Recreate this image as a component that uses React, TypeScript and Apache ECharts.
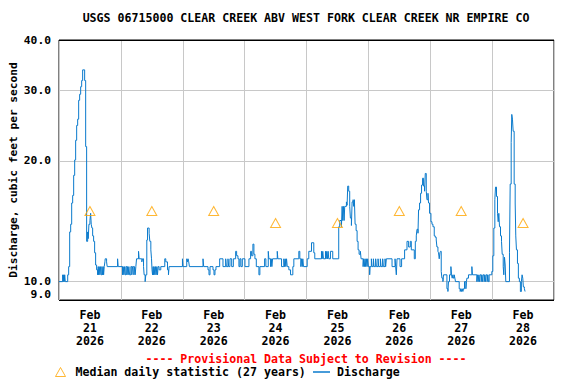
import React, { useEffect, useRef } from 'react';
import * as echarts from 'echarts';

// Tick labels / categories
const dayLabels = ['Feb\n21\n2026', 'Feb\n22\n2026', 'Feb\n23\n2026', 'Feb\n24\n2026', 'Feb\n25\n2026', 'Feb\n26\n2026', 'Feb\n27\n2026', 'Feb\n28\n2026'];
const yTickValues = [9, 10, 20, 30, 40];

// Median daily statistic (27 years), one per day, plotted at noon
const medianCfs = [15, 15, 15, 14, 14, 15, 15, 14];

// Discharge, cfs: [hour of day, value] change points, one array per day
const feb21: [number, number][] = [[0, 10.0], [1.43, 10.4], [1.66, 10.0], [1.82, 10.4], [2.05, 10.0], [2.21, 10.4], [2.44, 10.0], [3.37, 10.4], [3.75, 10.9], [4.14, 13.3], [4.53, 13.9], [4.92, 15.7], [5.30, 16.4], [5.69, 18.4], [6.08, 20.1], [6.46, 22.5], [6.85, 24.5], [7.24, 25.4], [7.63, 28.3], [8.01, 29.3], [8.40, 30.6], [8.79, 31.7], [9.17, 33.7], [9.95, 31.7], [10.34, 21.7], [10.72, 12.6], [11.11, 13.3], [11.34, 12.8], [11.61, 13.9], [12.00, 14.2], [12.27, 14.8], [12.50, 13.9], [12.77, 13.6], [13.05, 13.0], [13.43, 12.6], [13.82, 11.8], [14.21, 11.0], [14.59, 10.7], [14.98, 10.4], [15.21, 10.9], [15.37, 10.4], [15.60, 10.9], [15.87, 10.4], [16.14, 10.9], [16.37, 10.4], [16.65, 10.9], [16.92, 10.4], [17.15, 10.9], [17.30, 10.4], [17.54, 10.9], [17.81, 11.2], [17.92, 11.4], [18.46, 11.2], [18.70, 10.9], [22.72, 11.4], [22.95, 10.9]];
const feb22: [number, number][] = [[0.66, 10.4], [0.89, 10.9], [1.16, 10.4], [1.43, 10.9], [1.66, 10.4], [1.94, 10.9], [2.32, 10.4], [2.59, 10.9], [2.83, 10.4], [3.10, 10.9], [3.37, 10.4], [3.87, 10.9], [4.26, 10.4], [4.53, 10.9], [5.03, 10.4], [5.30, 10.9], [5.54, 10.4], [5.81, 10.9], [6.08, 11.4], [6.85, 11.9], [7.08, 11.4], [8.13, 11.2], [8.40, 11.4], [8.79, 10.9], [9.02, 10.4], [9.41, 10.0], [9.68, 10.4], [10.06, 12.7], [10.34, 13.6], [10.96, 13.2], [11.23, 12.6], [11.62, 12.0], [11.89, 11.4], [12.08, 10.7], [12.28, 10.4], [12.51, 10.9], [12.66, 10.4], [12.89, 10.9], [13.16, 10.4], [13.43, 10.9], [13.67, 10.4], [13.94, 10.9], [14.21, 10.4], [14.44, 10.9], [14.83, 10.7], [15.48, 10.9], [17.03, 11.4], [17.42, 11.2], [18.08, 10.7], [18.46, 10.4], [18.70, 10.9], [23.88, 11.4]];
const feb23: [number, number][] = [[0.12, 10.9], [1.55, 11.4], [1.82, 11.2], [2.05, 11.4], [2.32, 11.2], [2.59, 10.9], [7.86, 11.4], [8.13, 10.9], [9.79, 10.7], [10.18, 10.4], [10.57, 10.9], [11.73, 10.7], [12.12, 10.4], [12.50, 10.7], [12.89, 10.9], [14.32, 11.4], [15.60, 10.9], [16.65, 11.4], [16.92, 10.9], [17.54, 11.4], [17.81, 10.9], [18.31, 11.4], [18.97, 10.9], [19.63, 11.4], [20.52, 11.9], [20.90, 11.6], [21.41, 11.4], [21.79, 10.9], [22.18, 11.4], [22.57, 10.9], [23.11, 11.4]];
const feb24: [number, number][] = [[0.12, 10.9], [1.67, 11.4], [2.32, 11.9], [2.71, 11.6], [3.21, 12.4], [3.60, 11.7], [3.99, 11.4], [4.53, 10.9], [5.54, 10.4], [5.92, 10.9], [7.74, 11.4], [8.24, 10.9], [9.17, 11.9], [9.40, 11.4], [10.07, 10.9], [10.34, 11.4], [10.57, 10.9], [10.84, 11.4], [12.66, 11.9], [12.89, 11.4], [14.32, 10.9], [15.21, 11.4], [15.48, 10.9], [15.75, 11.4], [15.99, 10.9], [16.26, 11.4], [16.53, 10.9], [17.15, 10.7], [17.81, 10.4], [18.70, 10.9], [19.09, 11.4], [21.02, 11.9], [21.41, 11.4], [21.80, 10.9], [22.07, 11.4], [22.34, 10.9], [22.57, 11.4], [22.84, 10.9]];
const feb25: [number, number][] = [[0.27, 11.4], [0.89, 11.9], [1.94, 12.5], [2.83, 11.8], [3.21, 11.4], [5.81, 11.9], [6.08, 11.4], [6.31, 11.9], [6.58, 11.4], [7.36, 11.9], [7.63, 11.4], [7.86, 11.9], [8.13, 11.4], [8.40, 11.9], [8.63, 11.4], [9.29, 11.9], [10.18, 11.4], [12.50, 13.7], [12.89, 14.2], [13.55, 13.7], [13.82, 15.4], [14.05, 14.2], [14.32, 15.4], [14.59, 14.2], [14.82, 15.4], [15.48, 15.8], [15.75, 15.5], [15.99, 17.3], [16.37, 16.8], [16.76, 15.4], [17.03, 14.4], [17.42, 13.8], [17.69, 15.8], [18.08, 16.0], [18.31, 15.4], [18.58, 16.0], [18.85, 13.9], [19.24, 13.4], [19.63, 12.6], [20.01, 12.0], [20.40, 11.7], [20.90, 11.9], [21.17, 11.4], [21.95, 10.9], [22.18, 11.4], [22.45, 10.9], [22.72, 11.4], [22.95, 10.9], [23.22, 11.4], [23.49, 10.9], [23.73, 11.4]];
const feb26: [number, number][] = [[0.00, 10.9], [0.50, 10.4], [0.66, 10.9], [1.16, 11.4], [1.43, 10.9], [1.94, 11.4], [2.21, 10.9], [2.83, 11.4], [3.10, 10.9], [3.75, 11.4], [3.99, 10.9], [4.65, 11.4], [4.92, 10.9], [5.54, 11.4], [5.81, 10.9], [6.47, 11.4], [6.70, 10.9], [6.97, 11.4], [9.18, 10.9], [10.34, 11.4], [10.57, 10.9], [10.84, 10.4], [11.11, 11.4], [12.27, 10.9], [12.89, 11.4], [14.05, 12.0], [14.98, 12.6], [15.60, 12.2], [16.26, 12.6], [16.65, 12.0], [17.81, 11.4], [18.20, 12.6], [18.58, 13.0], [18.85, 13.5], [19.24, 13.2], [19.47, 15.1], [19.86, 15.7], [20.25, 16.6], [20.63, 17.4], [21.02, 18.1], [21.41, 17.3], [21.80, 16.8], [22.07, 18.6], [22.45, 16.8], [22.72, 16.0], [23.11, 16.6], [23.34, 15.7], [23.73, 14.8]];
const feb27: [number, number][] = [[0.27, 14.1], [0.66, 13.9], [1.05, 13.7], [1.55, 13.0], [1.94, 12.9], [2.32, 12.7], [2.59, 12.2], [2.98, 11.9], [3.21, 11.8], [3.48, 11.4], [3.75, 11.8], [3.98, 11.9], [4.26, 10.6], [4.53, 10.2], [4.92, 10.0], [5.15, 10.4], [6.47, 9.6], [6.85, 9.45], [7.08, 10.0], [7.47, 10.4], [8.01, 10.9], [8.24, 10.4], [8.51, 10.2], [8.78, 10.4], [9.01, 10.2], [9.29, 10.4], [9.56, 10.2], [9.79, 10.0], [11.23, 9.6], [11.61, 9.45], [11.88, 9.6], [12.12, 9.45], [12.39, 9.6], [12.66, 9.45], [12.89, 9.6], [13.28, 10.0], [13.82, 9.6], [14.05, 10.0], [14.21, 10.2], [14.83, 10.4], [16.14, 10.9], [16.37, 10.4], [18.07, 10.0], [18.31, 10.4], [18.58, 10.0], [18.85, 10.4], [19.08, 10.0], [19.35, 10.4], [19.74, 10.0], [20.01, 10.4], [20.24, 10.0], [20.51, 10.4], [20.90, 10.0], [21.17, 10.4], [21.40, 10.0], [21.67, 10.4], [22.06, 10.0], [22.33, 10.4], [22.56, 10.0], [22.84, 10.4], [23.88, 10.6]];
const feb28: [number, number][] = [[0.27, 11.6], [0.66, 13.6], [1.05, 16.0], [1.32, 17.2], [1.70, 16.3], [2.09, 14.8], [2.36, 14.1], [2.60, 14.8], [2.87, 13.7], [3.25, 13.0], [3.64, 12.6], [3.91, 11.7], [4.30, 10.9], [4.53, 10.4], [4.80, 11.5], [5.07, 11.0], [5.30, 10.0], [6.73, 11.8], [7.00, 17.5], [7.39, 22.2], [7.62, 26.1], [7.89, 25.4], [8.16, 23.7], [8.55, 17.5], [8.94, 15.7], [9.17, 13.0], [9.44, 12.0], [9.83, 11.1], [10.18, 10.2], [10.57, 10.0], [10.96, 9.45], [11.35, 10.0], [11.62, 10.4], [11.89, 10.2], [12.12, 9.7], [12.51, 9.6], [12.78, 9.45]];
const dischargeDays = [feb21, feb22, feb23, feb24, feb25, feb26, feb27, feb28];

const FONT = "'DejaVu Sans Mono', 'Liberation Mono', monospace";
const LINE_BLUE = '#0a7acc';
const ORANGE = '#ffa500';
const GRID_GRAY = '#c8c8c8';

export default function App() {
  const ref = useRef<HTMLDivElement>(null);

  useEffect(() => {
    if (!ref.current) return;
    const chart = echarts.init(ref.current, null, { renderer: 'svg' });
    const discharge = dischargeDays.flatMap((day, d) => day.map(([h, v]) => [d * 24 + h, v]));
    const median = medianCfs.map((v, d) => [d * 24 + 12, v]);
    const textBase = { fontFamily: FONT, fontWeight: 'bold' as const, color: '#000' };

    chart.setOption({
      animation: false,
      backgroundColor: '#ffffff',
      title: {
        text: 'USGS 06715000 CLEAR CREEK ABV WEST FORK CLEAR CREEK NR EMPIRE CO',
        left: 306,
        top: 12,
        textAlign: 'center',
        padding: 0,
        textStyle: { ...textBase, fontSize: 11.6 },
      },
      grid: {
        left: 58, top: 40, width: 496, height: 260,
        show: true, borderColor: '#000', borderWidth: 1, backgroundColor: 'transparent',
      },
      xAxis: [
        {
          type: 'value', min: 0, max: 192, interval: 24,
          axisLine: { show: false }, axisTick: { show: false }, axisLabel: { show: false },
          splitLine: { show: true, lineStyle: { color: GRID_GRAY, width: 1 } },
        },
        {
          type: 'category', data: dayLabels, position: 'bottom', boundaryGap: true,
          axisLine: { show: false }, axisTick: { show: false }, splitLine: { show: false },
          axisLabel: { ...textBase, fontSize: 11.6, lineHeight: 13, margin: 8, interval: 0 },
        },
      ],
      yAxis: {
        type: 'log', logBase: 10, min: 9, max: 40,
        axisLine: { show: false }, axisTick: { show: false }, axisLabel: { show: false }, splitLine: { show: false },
        name: 'Discharge, cubic feet per second',
        nameLocation: 'middle', nameGap: 40, nameRotate: 90,
        nameTextStyle: { ...textBase, fontSize: 11.2 },
      },
      legend: [
        {
          data: [{ name: 'Median daily statistic (27 years)', icon: 'triangle' }],
          left: 55, top: 366, padding: 0, itemWidth: 10, itemHeight: 9,
          selectedMode: false,
          itemStyle: { borderWidth: 1 },
          textStyle: { ...textBase, fontSize: 11.6, padding: [0, 0, 0, 5] },
        },
        {
          data: [{ name: 'Discharge', icon: 'rect' }],
          left: 313, top: 366, padding: 0, itemWidth: 17, itemHeight: 1.5,
          selectedMode: false,
          itemStyle: { color: LINE_BLUE, borderWidth: 0 },
          textStyle: { ...textBase, fontSize: 11.6, padding: [0, 0, 0, 2] },
        },
      ],
      series: [
        {
          name: 'Discharge', type: 'line', data: discharge, step: 'end',
          symbol: 'none', showSymbol: false, clip: false, z: 3,
          color: LINE_BLUE,
          lineStyle: { color: LINE_BLUE, width: 1 },
          markLine: {
            silent: true, symbol: 'none', z: 1, animation: false,
            lineStyle: { color: GRID_GRAY, width: 1, type: 'solid' },
            label: {
              show: true, position: 'start', distance: 8,
              ...textBase, fontSize: 11.3,
              formatter: (p: any) => {
                const v = Number(p.value);
                return v === 9 ? '{lo|' + v.toFixed(1) + '}' : v.toFixed(1);
              },
              rich: { lo: { ...textBase, fontSize: 11.3, padding: [0, 0, 12, 0] } },
            },
            data: yTickValues.map((v) => ({
              yAxis: v,
              lineStyle: v === 9 || v === 40 ? { color: '#000' } : undefined,
            })),
          },
        },
        {
          name: 'Median daily statistic (27 years)', type: 'scatter', data: median,
          symbol: 'triangle', symbolSize: [10, 9], z: 4,
          itemStyle: { color: 'rgba(255,165,0,0)', borderColor: ORANGE, borderWidth: 1 },
        },
      ],
      graphic: [
        {
          type: 'text', x: 306, y: 359,
          style: {
            text: '---- Provisional Data Subject to Revision ----',
            fill: '#ff0000', font: `bold 11.6px ${FONT}`,
            align: 'center', verticalAlign: 'middle',
          },
        },
      ],
    });
    return () => chart.dispose();
  }, []);

  return (
    <div
      ref={ref}
      style={{ position: 'fixed', left: 0, top: 0, width: 576, height: 384, background: '#fff' }}
    />
  );
}
